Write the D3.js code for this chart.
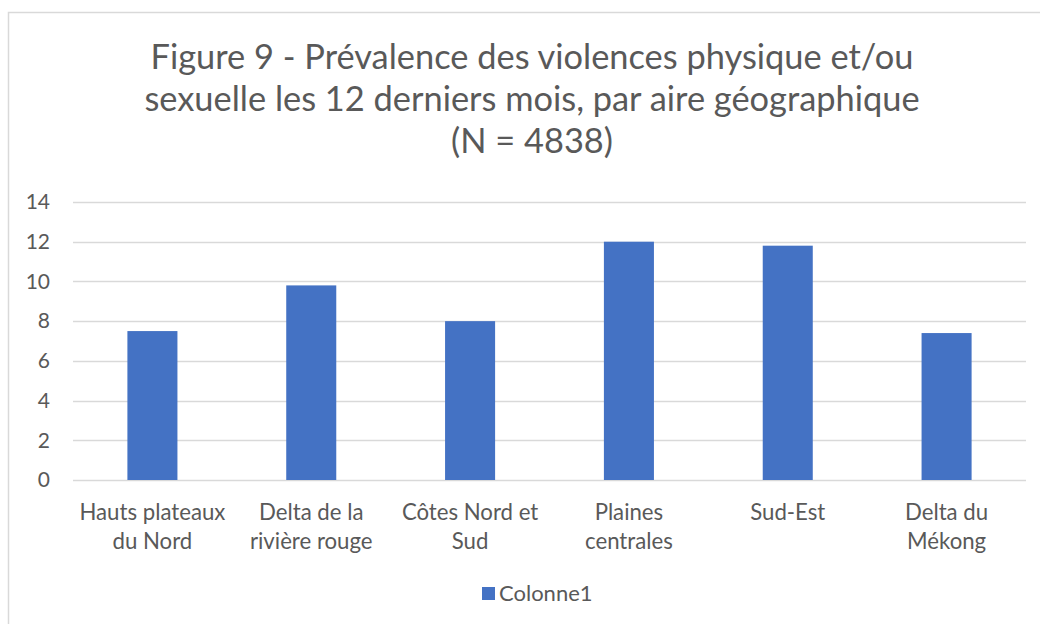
<!DOCTYPE html>
<html>
<head>
<meta charset="utf-8">
<script src="https://cdn.jsdelivr.net/npm/d3@7"></script>
<style>
  html, body { margin: 0; padding: 0; background: #fff; }
  svg { display: block; font-family: Lato, "Open Sans", sans-serif; }
</style>
</head>
<body>
<svg id="chart" width="1040" height="624"></svg>
<script>
// data
const titleLines = [
    "Figure 9 - Prévalence des violences physique et/ou",
    "sexuelle les 12 derniers mois, par aire géographique",
    "(N = 4838)"
];
const categories = [
    ["Hauts plateaux", "du Nord"],
    ["Delta de la", "rivière rouge"],
    ["Côtes Nord et", "Sud"],
    ["Plaines", "centrales"],
    ["Sud-Est"],
    ["Delta du", "Mékong"]
];
const values = [7.5, 9.8, 8.0, 12.0, 11.8, 7.4];
const yTicks = [0, 2, 4, 6, 8, 10, 12, 14];
const seriesName = "Colonne1";

const width = 1040, height = 624;
const margin = { top: 202, right: 14, bottom: 144, left: 73 };
const textColor = "#595959";
const barColor = "#4472C4";
const gridColor = "#d9d9d9";

const svg = d3.select("#chart");

// chart border (runs off the right/bottom edge like the screenshot)
svg.append("rect")
    .attr("x", 8.5).attr("y", 12.5)
    .attr("width", width + 20).attr("height", height + 20)
    .attr("fill", "#fff")
    .attr("stroke", gridColor)
    .attr("stroke-width", 1.5);

const x = d3.scaleBand()
    .domain(d3.range(categories.length))
    .range([margin.left, width - margin.right])
    .padding(0);

const y = d3.scaleLinear()
    .domain([0, 14])
    .range([height - margin.bottom, margin.top]);

// title
const title = svg.append("text")
    .attr("text-anchor", "middle")
    .attr("fill", textColor)
    .style("font-size", "34.4px");
title.selectAll("tspan")
    .data(titleLines)
    .join("tspan")
    .attr("x", 532)
    .attr("y", (d, i) => 69 + i * 42)
    .text(d => d);

// gridlines
svg.append("g")
    .attr("class", "grid")
    .selectAll("line")
    .data(yTicks)
    .join("line")
    .attr("x1", margin.left)
    .attr("x2", width - margin.right)
    .attr("y1", d => Math.round(y(d)) + 0.5)
    .attr("y2", d => Math.round(y(d)) + 0.5)
    .attr("stroke", gridColor)
    .attr("stroke-width", 1.5);

// y axis labels
const yAxis = svg.append("g")
    .attr("transform", `translate(${margin.left},0)`)
    .call(d3.axisLeft(y).tickValues(yTicks).tickSize(0).tickPadding(23));
yAxis.select(".domain").remove();
yAxis.selectAll("text")
    .attr("fill", textColor)
    .style("font-size", "21px")
    .style("font-family", "Lato, sans-serif");

// bars
const barW = x.bandwidth() * 0.315;
svg.append("g")
    .selectAll("rect")
    .data(values)
    .join("rect")
    .attr("x", (d, i) => x(i) + (x.bandwidth() - barW) / 2)
    .attr("y", d => y(d))
    .attr("width", barW)
    .attr("height", d => y(0) - y(d))
    .attr("fill", barColor);

// category labels
const xLabels = svg.append("g")
    .selectAll("text")
    .data(categories)
    .join("text")
    .attr("text-anchor", "middle")
    .attr("fill", textColor)
    .style("font-size", "22.2px");
xLabels.selectAll("tspan")
    .data((d, i) => d.map(t => ({ t, i })))
    .join("tspan")
    .attr("x", d => x(d.i) + x.bandwidth() / 2)
    .attr("y", (d, j) => y(0) + 40 + j * 29)
    .text(d => d.t);

// legend
const legend = svg.append("g");
legend.append("rect")
    .attr("x", 482).attr("y", 587)
    .attr("width", 13).attr("height", 13)
    .attr("fill", barColor);
legend.append("text")
    .attr("x", 499).attr("y", 601)
    .attr("fill", textColor)
    .style("font-size", "22px")
    .text(seriesName);
</script>
</body>
</html>
